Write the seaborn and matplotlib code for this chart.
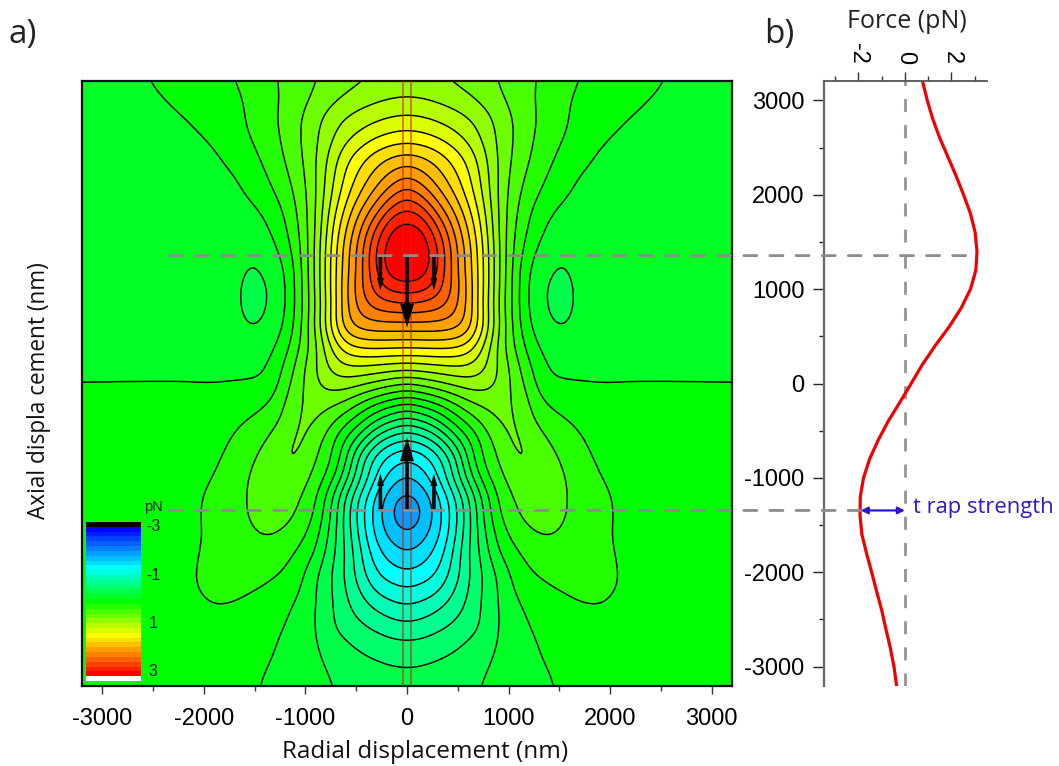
# optical trap force map with the axial force profile next to it
import numpy as np
import pandas as pd
import seaborn as sns
import matplotlib.pyplot as plt
from matplotlib.colors import ListedColormap, BoundaryNorm
from matplotlib.patches import ConnectionPatch
from matplotlib.ticker import MultipleLocator

# radial positions of the half map (nm), the other half is the mirror image
radial_nm = [0, 150, 300, 450, 600, 750, 900, 1050, 1200, 1350, 1500, 1700, 1900, 2200, 2600, 3200]
axial_nm = list(range(3200, -3201, -200))

# force (pN), one row per axial position
force_rows = [
    [.85, .84, .81, .77, .72, .66, .59, .51, .44, .36, .29, .2, .14, .07, -.01, -.04],
    [1.03, 1.01, .97, .91, .84, .74, .64, .53, .43, .34, .25, .15, .1, .03, -.04, -.07],
    [1.25, 1.23, 1.17, 1.11, 1.03, .92, .75, .6, .45, .36, .26, .14, .08, 0, -.07, -.1],
    [1.5, 1.46, 1.39, 1.27, 1.14, .95, .76, .6, .43, .33, .22, .12, .03, -.06, -.1, -.12],
    [1.87, 1.83, 1.72, 1.55, 1.36, 1.08, .77, .57, .41, .29, .16, .07, -.03, -.1, -.13, -.14],
    [2.21, 2.06, 1.88, 1.68, 1.45, 1.13, .78, .52, .36, .22, .1, -.01, -.07, -.12, -.15, -.15],
    [2.59, 2.35, 2.08, 1.82, 1.53, 1.18, .76, .48, .29, .15, .05, -.05, -.11, -.14, -.16, -.16],
    [2.92, 2.8, 2.38, 2.06, 1.7, 1.29, .77, .45, .2, .05, -.05, -.1, -.14, -.16, -.16, -.15],
    [3.16, 3.12, 2.72, 2.25, 1.83, 1.37, .78, .4, .16, -.01, -.12, -.13, -.14, -.14, -.13, -.12],
    [3.25, 3.2, 2.88, 2.36, 1.93, 1.43, .82, .37, .07, -.1, -.19, -.14, -.13, -.11, -.09, -.08],
    [3.22, 3.17, 2.85, 2.33, 1.92, 1.43, .82, .33, -.03, -.16, -.235, -.16, -.13, -.1, -.07, -.05],
    [2.92, 2.88, 2.72, 2.41, 2.0, 1.43, .82, .33, -.05, -.21, -.27, -.17, -.13, -.09, -.06, -.04],
    [2.5, 2.48, 2.45, 2.32, 1.97, 1.37, .77, .32, -.05, -.2, -.27, -.17, -.12, -.08, -.05, -.03],
    [2.12, 2.12, 2.12, 2.1, 2.02, 1.5, .85, .35, 0, -.15, -.235, -.15, -.1, -.06, -.04, -.02],
    [1.65, 1.67, 1.68, 1.67, 1.55, 1.2, .7, .4, .1, -.07, -.12, -.12, -.08, -.05, -.03, -.02],
    [1.17, 1.18, 1.2, 1.21, 1.22, 1.08, .8, .52, .22, 0, -.04, -.05, -.05, -.03, -.02, -.02],
    [.6, .68, .78, .87, .92, .92, .8, .55, .33, .002, .004, .006, .003, .006, .004, .004],
    [0, .1, .2, .37, .57, .66, .68, .6, .42, .2, .12, .08, .05, .03, .02, .015],
    [-.53, -.4, -.2, .04, .26, .45, .65, .65, .44, .33, .24, .16, .1, .06, .03, .02],
    [-1.07, -.97, -.77, -.32, -.06, .25, .48, .7, .55, .43, .34, .22, .13, .07, .04, .02],
    [-1.42, -1.35, -1.15, -.85, -.15, .26, .4, .6, .66, .48, .41, .27, .16, .09, .05, .02],
    [-1.65, -1.5, -1.2, -.74, -.3, .14, .35, .5, .62, .5, .44, .33, .2, .11, .06, .03],
    [-1.9, -1.78, -1.5, -1.13, -.68, -.18, .24, .41, .49, .51, .45, .33, .25, .13, .07, .03],
    [-2.05, -1.85, -1.52, -1.15, -.7, -.17, .2, .38, .47, .5, .45, .33, .25, .14, .07, .03],
    [-1.8, -1.68, -1.5, -1.1, -.68, -.25, .07, .27, .37, .42, .39, .3, .24, .13, .07, .03],
    [-1.6, -1.52, -1.33, -.99, -.58, -.33, .03, .15, .26, .32, .33, .29, .25, .15, .07, .03],
    [-1.4, -1.33, -1.22, -.96, -.65, -.39, -.19, .07, .19, .26, .29, .28, .25, .17, .08, .03],
    [-1.17, -1.12, -1.04, -.82, -.6, -.37, -.2, .02, .08, .14, .2, .24, .24, .17, .08, .03],
    [-.95, -.9, -.8, -.68, -.56, -.36, -.2, -.06, .03, .07, .12, .18, .2, .13, .07, .03],
    [-.72, -.69, -.62, -.56, -.47, -.4, -.19, -.08, 0, .03, .06, .09, .1, .09, .05, .02],
    [-.52, -.51, -.47, -.42, -.35, -.27, -.18, -.09, -.03, .02, .04, .06, .07, .07, .04, .02],
    [-.4, -.39, -.36, -.33, -.28, -.22, -.16, -.09, -.04, -.002, .02, .04, .05, .05, .03, .02],
    [-.31, -.3, -.28, -.26, -.23, -.19, -.14, -.09, -.05, -.02, .01, .03, .04, .04, .03, .02],
]

# panel b, force along the axis
profile_force = [.76, .96, 1.2, 1.5, 1.85, 2.2, 2.52, 2.82, 3.02, 3.1, 3.05, 2.82, 2.42, 1.9, 1.3, .75, .27,
                 -.22, -.72, -1.15, -1.52, -1.78, -1.92, -1.93, -1.85, -1.65, -1.43, -1.22, -1.0, -.82, -.63, -.47, -.36]

trap_axial_nm = [1355, -1345]
scale_labels = [-3, -1, 1, 3]

sns.set_style('ticks')
plt.rcParams['font.family'] = ['Liberation Sans', 'DejaVu Sans']
plt.rcParams['axes.unicode_minus'] = False
TEXT_FONT = ['Open Sans', 'DejaVu Sans']
W, H = 1059, 766


def ax_rect(left, top, right, bottom):
    return [left / W, 1 - bottom / H, (right - left) / W, (bottom - top) / H]


def blur(z, steps, axis):
    # plain gaussian along one axis, edges held
    t = np.arange(-3 * steps, 3 * steps + 1)
    k = np.exp(-0.5 * (t / steps) ** 2)
    k /= k.sum()
    pad = [(0, 0), (0, 0)]
    pad[axis] = (3 * steps, 3 * steps)
    return np.apply_along_axis(lambda v: np.convolve(v, k, mode='valid'), axis, np.pad(z, pad, mode='edge'))


fig = plt.figure(figsize=(W / 100, H / 100), dpi=100)
ax = fig.add_axes(ax_rect(82, 81, 732, 686))
axb = fig.add_axes(ax_rect(824, 81, 987, 686))

# discrete colour scale, one band per 0.2 pN
edges = np.round(np.arange(-3.2, 3.41, 0.2), 1)
bands = edges[:-1]
red = np.interp(bands, [0, 1.4], [0, 1])
green = np.interp(bands, [-3, -1.4, 1.4, 3], [0, 1, 1, 0])
blue = np.interp(bands, [-3, -1.4, 0], [1, 1, 0])
colors = np.column_stack([red, green, blue])
colors[0] = [0, 0, 0]
colors[-1] = [1, 1, 1]
cmap = ListedColormap(colors)
norm = BoundaryNorm(edges, cmap.N)

# mirror the half map, resample it on a 20 nm raster and soften the reading noise
half = np.array(force_rows)
full = np.hstack([half[:, :0:-1], half])
xs = np.r_[-np.array(radial_nm[:0:-1]), radial_nm].astype(float)
ys = np.array(axial_nm[::-1], dtype=float)
gx = np.arange(-3200, 3201, 20.0)
gy = np.arange(-3200, 3201, 20.0)
fine = np.array([np.interp(gx, xs, row) for row in full[::-1]])
fine = np.array([np.interp(gy, ys, col) for col in fine.T]).T
fine = blur(blur(fine, 4, 1), 6, 0)
fine = np.clip(fine, -1.99, 3.19)

ax.contourf(gx, gy, fine, levels=edges, cmap=cmap, norm=norm)
ax.contour(gx, gy, fine, levels=edges[1:-1], colors='black', linewidths=1.05, linestyles='solid')
ax.set_xlim(-3200, 3200)
ax.set_ylim(-3205, 3205)
ax.set_yticks([])
ax.xaxis.set_major_locator(MultipleLocator(1000))
ax.xaxis.set_minor_locator(MultipleLocator(500))
ax.tick_params(axis='x', which='major', length=6, width=1, labelsize=17, pad=10, color='#333333', labelcolor='black')
ax.tick_params(axis='x', which='minor', length=3.5, width=1, color='#333333')
for sp in ax.spines.values():
    sp.set_visible(True)
    sp.set_linewidth(1.6)
    sp.set_color('#111111')
ax.set_xlabel('Radial displacement (nm)', fontsize=17.5, family=TEXT_FONT, color='#111111', va='center')
ax.xaxis.set_label_coords(0.528, -0.109)
ax.set_ylabel('Axial displa cement (nm)', fontsize=16.3, family=TEXT_FONT, color='#111111', va='center')
ax.yaxis.set_label_coords(-0.066, 0.488)

# beam edges
for x in [-37, 38]:
    ax.axvline(x, color='#d8200f', alpha=0.6, lw=1.4, zorder=4)

# force arrows at the two trap positions
arrow_big = 'simple,head_length=17,head_width=10,tail_width=2.6'
arrow_small = 'simple,head_length=9,head_width=5,tail_width=2.6'
for start, big_tip, small_tip in [(1355, 594, 986), (-1345, -573, -954)]:
    ax.annotate('', xy=(0, big_tip), xytext=(0, start), zorder=6,
                arrowprops=dict(arrowstyle=arrow_big, color='black', shrinkA=0, shrinkB=0, mutation_scale=1, lw=0))
    for x in [-262, 265]:
        ax.annotate('', xy=(x, small_tip), xytext=(x, start), zorder=6,
                    arrowprops=dict(arrowstyle=arrow_small, color='black', shrinkA=0, shrinkB=0, mutation_scale=1, lw=0))

# colour scale inset, black end on top
cax = fig.add_axes(ax_rect(86, 522, 141, 681))
sns.heatmap(bands.reshape(-1, 1), cmap=cmap, norm=norm, cbar=False, ax=cax,
            xticklabels=False, yticklabels=False)
for val in scale_labels:
    row = np.argmin(np.abs(bands - val))
    cax.text(1.09 + (0.05 if val > 0 else 0), row, str(val), ha='left', va='center', fontsize=11.5, color='#222222', clip_on=False)
cax.text(1.05, -1.6, 'pN', ha='left', va='bottom', fontsize=10.5, color='#222222', clip_on=False)

# panel b
profile = pd.DataFrame({'force': profile_force, 'axial': axial_nm})
sns.lineplot(data=profile, x='force', y='axial', sort=False, estimator=None, color='#f00000', lw=2.3, ax=axb)
axb.axvline(0, color='#969690', lw=2, dashes=(4.7, 4.7), zorder=1)
axb.set_xlim(-3.48, 3.53)
axb.set_ylim(-3205, 3205)
axb.set_xlabel('')
axb.set_ylabel('')
axb.xaxis.tick_top()
axb.spines['right'].set_visible(False)
axb.spines['bottom'].set_visible(False)
axb.spines['top'].set_visible(True)
axb.spines['top'].set_color('#555555')
axb.spines['left'].set_color('#666666')
axb.spines['top'].set_linewidth(1.3)
axb.spines['left'].set_linewidth(1.6)
axb.set_xticks([-2, 0, 2])
axb.set_xticks([-3, -1, 1, 3], minor=True)
axb.tick_params(axis='x', which='major', length=6.5, width=1, pad=6, labelsize=17, labelrotation=-90, color='#333333', labelcolor='black')
axb.tick_params(axis='x', which='minor', length=3.5, width=1, color='#333333')
for lab in axb.get_xticklabels():
    lab.set_va('bottom')
axb.yaxis.set_major_locator(MultipleLocator(1000))
axb.yaxis.set_minor_locator(MultipleLocator(500))
axb.tick_params(axis='y', which='major', length=8, width=1, pad=6, labelsize=17, color='#222222', labelcolor='black')
axb.tick_params(axis='y', which='minor', length=3.5, width=1, color='#222222')

# dashed guides run through both panels
for y, end in zip(trap_axial_nm, [3.1, -1.93]):
    line = ConnectionPatch(xyA=(-2340, y), coordsA=ax.transData, xyB=(end, y), coordsB=axb.transData,
                           color='#8c8c8c', lw=2, linestyle=(0, (4.7, 4.7)), zorder=8)
    fig.add_artist(line)

axb.annotate('', xy=(-1.9, -1345), xytext=(0, -1345),
             arrowprops=dict(arrowstyle='<|-|>', color='#2a14d2', lw=1.6, shrinkA=0, shrinkB=0, mutation_scale=10))
fig.text(913 / W, 1 - 508 / H, 't rap strength', color='#3216c8', fontsize=15.8, family=TEXT_FONT, ha='left', va='center')

fig.text(907 / W, 1 - 21 / H, 'Force (pN)', fontsize=18, family=TEXT_FONT, ha='center', va='center', color='#222222')
fig.text(8 / W, 1 - 35 / H, 'a)', fontsize=24, family=TEXT_FONT, ha='left', va='center', color='#222222')
fig.text(764 / W, 1 - 35 / H, 'b)', fontsize=24, family=TEXT_FONT, ha='left', va='center', color='#222222')

fig.savefig('out.png', dpi=100)
